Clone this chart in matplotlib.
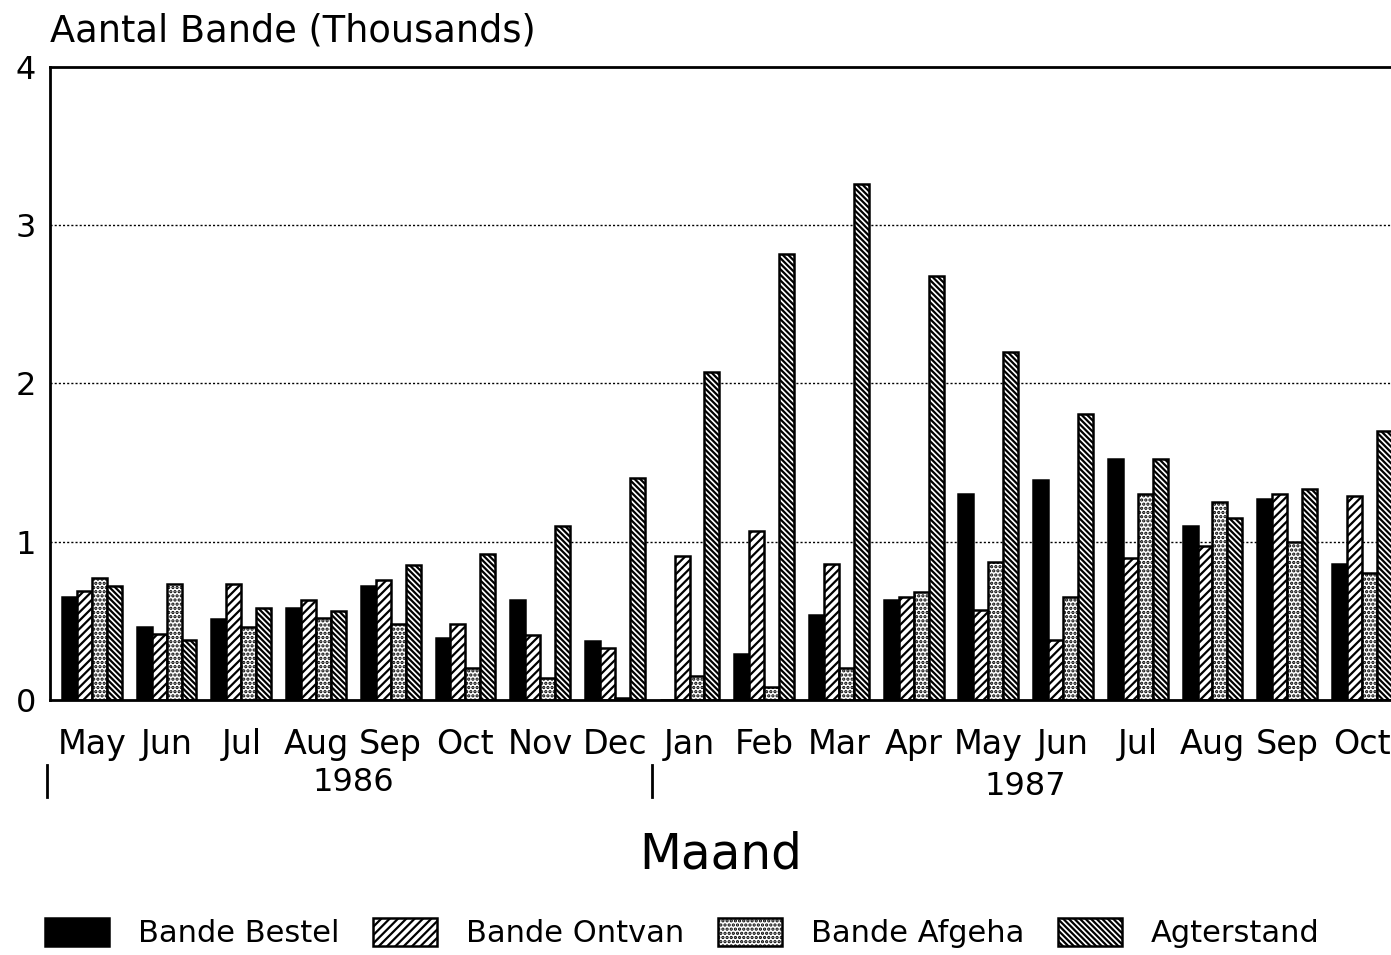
import matplotlib
matplotlib.use("Agg")
import matplotlib.pyplot as plt
import numpy as np

plt.rcParams['font.family'] = ['DejaVu Sans']
plt.rcParams['hatch.linewidth'] = 1.6

# Monthly figures, thousands
months = ["May", "Jun", "Jul", "Aug", "Sep", "Oct", "Nov", "Dec",
          "Jan", "Feb", "Mar", "Apr", "May", "Jun", "Jul", "Aug", "Sep", "Oct"]
years = ["1986", "1987"]
bande_bestel = [0.65, 0.46, 0.51, 0.58, 0.72, 0.39, 0.63, 0.37,
                0.00, 0.29, 0.54, 0.63, 1.30, 1.39, 1.52, 1.10, 1.27, 0.86]
bande_ontvan = [0.69, 0.42, 0.73, 0.63, 0.76, 0.48, 0.41, 0.33,
                0.91, 1.07, 0.86, 0.65, 0.57, 0.38, 0.90, 0.97, 1.30, 1.29]
bande_afgeha = [0.77, 0.73, 0.46, 0.52, 0.48, 0.20, 0.14, 0.01,
                0.15, 0.08, 0.20, 0.68, 0.87, 0.65, 1.30, 1.25, 1.00, 0.80]
agterstand = [0.72, 0.38, 0.58, 0.56, 0.85, 0.92, 1.10, 1.40,
              2.07, 2.82, 3.26, 2.68, 2.20, 1.81, 1.52, 1.15, 1.33, 1.70]

series = [
    ("Bande Bestel", bande_bestel, dict(facecolor="black", hatch=None)),
    ("Bande Ontvan", bande_ontvan, dict(facecolor="white", hatch="////")),
    ("Bande Afgeha", bande_afgeha, dict(facecolor="white", hatch="....")),
    ("Agterstand", agterstand, dict(facecolor="white", hatch="\\\\\\\\\\\\")),
]

fig = plt.figure(figsize=(13.91, 9.55), dpi=100)
ax = fig.add_axes([0.036, 0.267, 0.964, 0.663])

x = np.arange(len(months))
width = 0.2
handles = []
for k, (name, vals, style) in enumerate(series):
    b = ax.bar(x + (k - 1.5) * width, vals, width, edgecolor="black",
               linewidth=1.8, label=name, **style)
    handles.append(b)

ax.set_xlim(-0.56, 17.39)
ax.set_ylim(0, 4)
ax.set_yticks([0, 1, 2, 3, 4])
ax.set_yticklabels(["0", "1", "2", "3", "4"], fontsize=23)
ax.tick_params(axis="y", length=0, pad=10)
ax.set_xticks(x)
ax.set_xticklabels(months, fontsize=24)
ax.tick_params(axis="x", length=0, pad=20)

for y in [1, 2, 3]:
    ax.axhline(y, color="black", linestyle=(0, (1.5, 1.5)), linewidth=1.0, zorder=0)

for side in ["left", "top", "bottom"]:
    ax.spines[side].set_linewidth(2)
ax.spines["right"].set_visible(False)

# Year separators and year labels under the month names
trans = ax.get_xaxis_transform()
for xb in [-0.6, 7.5]:
    ax.plot([xb, xb], [-0.103, -0.153], transform=trans, color="black",
            linewidth=2, clip_on=False)
ax.text(3.5, -0.13, years[0], transform=trans, ha="center", va="center", fontsize=23)
ax.text(12.5, -0.137, years[1], transform=trans, ha="center", va="center", fontsize=23)

ax.set_xlabel("Maand", fontsize=35, labelpad=50)
fig.text(0.036, 0.968, "Aantal Bande (Thousands)", ha="left", va="center", fontsize=26.5)

fig.legend(handles=handles, labels=[s[0] for s in series], loc="center left",
           bbox_to_anchor=(0.032, 0.023), ncol=4, frameon=False, fontsize=22,
           handlelength=2.1, handleheight=1.05, columnspacing=1.1, handletextpad=0.95,
           borderpad=0, borderaxespad=0)

fig.savefig("out.png", dpi=100)
